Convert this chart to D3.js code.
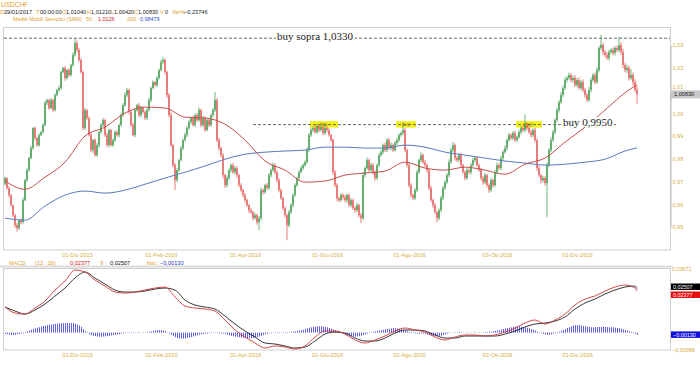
<!DOCTYPE html>
<html>
<head>
<meta charset="utf-8">
<script src="https://cdnjs.cloudflare.com/ajax/libs/d3/7.8.5/d3.min.js"></script>
<style>
  body { margin: 0; background: #fff; }
  svg { display: block; font-family: "Liberation Sans", Arial, sans-serif; }
</style>
</head>
<body>
<div id="chart"></div>
<script>
// USDCHF daily
const firstOpen = 0.9690;
const closes = [
  0.9715,0.9671,0.9640,0.9596,0.9552,0.9508,0.9495,0.9530,0.9521,0.9618,
  0.9706,0.9750,0.9803,0.9847,0.9935,0.9891,0.9860,0.9904,0.9917,0.9948,
  1.0045,1.0058,1.0023,1.0058,1.0014,1.0080,1.0102,1.0111,1.0181,1.0199,
  1.0155,1.0190,1.0168,1.0212,1.0256,1.0309,1.0278,1.0234,1.0181,0.9935,
  1.0014,0.9979,0.9904,0.9838,0.9882,0.9816,0.9860,0.9917,0.9948,0.9970,
  0.9904,0.9860,0.9926,0.9860,0.9882,0.9917,0.9904,0.9948,0.9992,1.0036,
  1.0080,1.0102,1.0005,0.9948,0.9904,1.0014,1.0036,0.9992,1.0023,1.0005,
  0.9979,1.0014,1.0058,1.0111,1.0137,1.0124,1.0155,1.0190,1.0225,1.0234,
  1.0181,1.0080,0.9992,0.9860,0.9772,0.9706,0.9750,0.9794,0.9847,0.9882,
  0.9904,0.9935,0.9961,0.9979,0.9948,0.9992,0.9970,1.0014,0.9948,0.9979,
  0.9926,0.9970,0.9948,0.9992,1.0014,1.0058,0.9882,0.9847,0.9816,0.9728,
  0.9684,0.9715,0.9750,0.9772,0.9741,0.9759,0.9728,0.9684,0.9662,0.9640,
  0.9618,0.9596,0.9574,0.9565,0.9539,0.9552,0.9521,0.9539,0.9662,0.9653,
  0.9684,0.9671,0.9728,0.9750,0.9772,0.9741,0.9706,0.9662,0.9627,0.9583,
  0.9552,0.9508,0.9565,0.9596,0.9640,0.9684,0.9715,0.9741,0.9759,0.9772,
  0.9785,0.9838,0.9904,0.9926,0.9935,0.9917,0.9944,0.9926,0.9939,0.9913,
  0.9935,0.9926,0.9904,0.9882,0.9741,0.9684,0.9627,0.9618,0.9640,0.9631,
  0.9618,0.9640,0.9596,0.9618,0.9583,0.9574,0.9596,0.9552,0.9539,0.9728,
  0.9759,0.9794,0.9750,0.9772,0.9741,0.9715,0.9772,0.9816,0.9829,0.9860,
  0.9838,0.9882,0.9847,0.9860,0.9838,0.9869,0.9882,0.9904,0.9913,0.9926,
  0.9838,0.9772,0.9684,0.9640,0.9627,0.9662,0.9741,0.9794,0.9816,0.9785,
  0.9772,0.9750,0.9671,0.9618,0.9596,0.9565,0.9539,0.9574,0.9627,0.9671,
  0.9697,0.9728,0.9785,0.9838,0.9860,0.9803,0.9794,0.9816,0.9772,0.9741,
  0.9715,0.9750,0.9741,0.9772,0.9794,0.9803,0.9772,0.9750,0.9715,0.9697,
  0.9728,0.9684,0.9662,0.9706,0.9684,0.9741,0.9772,0.9759,0.9803,0.9829,
  0.9847,0.9882,0.9904,0.9891,0.9913,0.9882,0.9895,0.9917,0.9935,0.9926,
  0.9948,0.9935,0.9917,0.9904,0.9926,0.9882,0.9759,0.9728,0.9706,0.9715,
  0.9693,0.9772,0.9838,0.9882,0.9917,0.9970,1.0014,1.0049,1.0080,1.0111,
  1.0146,1.0155,1.0168,1.0146,1.0155,1.0124,1.0146,1.0111,1.0137,1.0102,
  1.0080,1.0058,1.0102,1.0146,1.0168,1.0137,1.0190,1.0287,1.0300,1.0269,
  1.0256,1.0243,1.0269,1.0278,1.0265,1.0287,1.0278,1.0300,1.0269,1.0212,
  1.0190,1.0199,1.0155,1.0168,1.0137,1.0104,1.0083
];
// wick lengths above / below the body, in pips
const upWick = [
  6,4,8,5,3,6,9,4,7,12,5,8,6,10,4,7,5,9,6,8,
  10,7,5,9,6,8,5,11,7,6,9,5,8,6,12,22,10,8,7,6,
  9,5,8,12,6,7,10,5,8,9,6,11,7,5,8,6,9,7,10,8,
  12,9,6,8,10,7,5,9,8,6,7,9,10,6,8,5,9,7,10,13,
  8,6,9,12,7,10,8,6,9,7,11,8,10,6,9,7,8,12,6,9,
  7,10,8,6,9,35,8,10,6,9,7,12,8,6,10,9,7,5,8,6,
  9,7,5,8,6,10,7,9,12,8,6,9,10,7,12,8,6,9,7,5,
  8,6,10,9,7,8,6,9,10,7,8,12,9,11,7,10,8,6,9,7,
  10,8,9,6,7,9,8,6,10,7,9,8,6,9,7,8,10,6,9,14,
  8,12,7,9,10,8,6,9,11,7,10,8,9,12,7,9,10,8,6,24,
  9,7,10,8,6,9,11,8,12,7,9,6,8,10,7,9,6,8,10,9,
  8,10,12,9,14,7,9,8,10,6,8,9,7,10,12,8,9,7,10,8,
  9,7,8,10,6,9,11,8,10,9,12,8,10,7,9,11,8,10,9,12,
  47,10,9,12,8,10,7,9,6,10,8,11,9,12,10,8,11,9,13,10,
  12,9,11,8,10,13,9,11,8,12,10,9,13,11,8,10,12,9,44,10,
  9,12,10,8,11,9,10,35,12,15,10,14,9,25,11,12,17
];
const loWick = [
  8,6,10,7,9,12,15,8,10,6,5,9,7,6,8,10,6,8,5,7,
  6,9,8,5,10,7,6,8,9,5,12,7,8,6,9,7,10,8,6,9,
  10,8,6,9,12,7,8,10,6,9,8,7,10,6,9,8,7,10,6,8,
  7,9,10,8,6,9,7,8,10,6,9,8,7,10,6,8,9,7,6,8,
  10,12,9,8,10,44,9,8,6,10,7,9,8,10,6,9,7,8,10,9,
  8,6,9,7,10,8,9,12,10,14,12,9,8,10,7,9,12,10,8,9,
  10,8,12,9,10,8,11,35,9,10,8,9,7,10,8,9,12,10,8,11,
  10,66,9,8,10,7,9,8,6,9,8,7,10,8,9,6,8,10,7,9,
  8,10,7,9,12,10,14,9,8,10,9,12,8,10,9,11,8,10,22,9,
  10,8,9,7,10,12,8,9,7,10,8,9,7,10,8,6,9,8,7,9,
  8,10,12,9,10,8,9,7,10,8,9,11,10,9,12,8,18,10,9,8,
  9,8,10,7,9,12,8,10,9,7,10,8,9,11,8,10,9,8,10,12,
  8,10,12,9,11,8,9,10,8,9,7,10,8,9,10,8,9,7,10,8,
  9,10,8,11,9,10,12,9,14,10,11,150,10,9,8,10,9,11,8,10,
  9,11,8,10,12,9,10,8,11,10,12,9,8,10,9,11,8,10,9,12,
  10,9,12,8,10,11,9,10,12,14,10,13,11,9,15,12,41
];

// moving averages, read every 10 bars (last one at the final bar)
const sma50 = [
  0.9702,0.9666,0.9719,0.9785,0.9900,0.9939,1.0001,1.0027,1.0023,0.9983,
  0.9979,0.9952,0.9882,0.9790,0.9750,0.9697,0.9702,0.9728,0.9737,0.9746,
  0.9785,0.9759,0.9750,0.9763,0.9750,0.9732,0.9776,0.9803,0.9873,0.9939,
  1.0014,1.0090,1.0126
];
const sma200 = [
  0.9539,0.9530,0.9592,0.9640,0.9658,0.9649,0.9662,0.9688,0.9715,0.9741,
  0.9768,0.9798,0.9820,0.9829,0.9834,0.9838,0.9851,0.9851,0.9847,0.9847,
  0.9860,0.9851,0.9829,0.9816,0.9803,0.9790,0.9781,0.9772,0.9776,0.9785,
  0.9798,0.9834,0.9848
];

// MACD (12,26) and signal (9), read every 5 bars (last one at the final bar)
const macdLine = [
  0.01454,0.01113,0.01056,0.01397,0.01795,0.02420,0.02931,0.03556,0.03442,0.02988,
  0.02647,0.02306,0.02249,0.02306,0.02420,0.02533,0.02590,0.02022,0.01511,0.01397,
  0.01340,0.01227,0.00716,0.00148,-0.00250,-0.00591,-0.00875,-0.00761,-0.00818,-0.00932,
  -0.00761,-0.00250,0.00091,0.00091,-0.00080,-0.00420,-0.00591,-0.00420,-0.00193,0.00091,
  0.00261,0.00148,0.00034,-0.00250,-0.00420,-0.00250,-0.00136,-0.00136,-0.00193,-0.00136,
  0.00034,0.00261,0.00545,0.00716,0.00488,0.00716,0.01056,0.01568,0.01908,0.02079,
  0.02363,0.02590,0.02704,0.02533,0.02377
];
const signalLine = [
  0.01454,0.01227,0.01056,0.01284,0.01624,0.02079,0.02533,0.03101,0.03442,0.03101,
  0.02760,0.02420,0.02306,0.02306,0.02363,0.02476,0.02533,0.02420,0.01852,0.01568,
  0.01454,0.01340,0.00943,0.00488,0.00091,-0.00250,-0.00591,-0.00648,-0.00761,-0.00875,
  -0.00818,-0.00477,-0.00080,0.00034,-0.00023,-0.00307,-0.00477,-0.00477,-0.00307,-0.00023,
  0.00148,0.00148,0.00091,-0.00136,-0.00307,-0.00307,-0.00193,-0.00193,-0.00193,-0.00193,
  -0.00080,0.00091,0.00318,0.00488,0.00545,0.00659,0.00886,0.01340,0.01681,0.01908,
  0.02192,0.02420,0.02590,0.02647,0.02507
];
// histogram per bar, in units of 0.0001
const hist = [
  -8,-10,-12,-14,-14,-12,-10,-8,-5,
  0,4,8,12,16,20,24,28,31,34,37,40,42,44,46,48,50,51,52,53,54,54,55,55,54,53,50,46,40,32,
  20,8,-3,-10,-15,-18,-20,-22,-23,-23,-22,-21,-20,-18,-16,-14,-12,-10,-8,-6,-4,-2,
  -1,0,-2,-3,-2,-1,0,1,2,2,
  3,5,8,10,12,14,15,14,12,8,2,
  -5,-12,-20,-26,-30,-33,-34,-34,-33,-31,-28,-25,-22,-18,-15,-12,-10,-8,-6,-5,-4,
  -3,-2,-2,-3,-4,-5,-6,-8,
  -12,-15,-18,-20,-22,-24,-26,-28,-30,-31,-32,-32,-31,-30,-28,-26,-22,-18,-14,
  -10,-6,-3,0,2,3,2,0,-2,-3,-2,0,2,4,6,8,10,12,14,16,
  20,24,28,30,32,34,35,36,36,35,33,30,26,22,18,14,10,5,
  0,-6,-10,-14,-17,-20,-22,-23,-22,-20,-17,-14,-10,-6,
  -2,2,5,8,10,12,14,
  16,18,20,22,24,25,25,24,22,20,16,12,
  8,4,0,-3,-5,-6,-6,-5,-6,-8,
  -10,-13,-16,-18,-20,-20,-19,-17,-14,-10,-6,
  -3,-1,1,2,3,4,3,2,1,0,-1,-2,-3,-2,-1,0,1,2,3,4,5,6,8,10,12,
  14,17,20,23,26,28,30,32,34,35,35,34,32,30,27,24,20,16,12,
  6,0,-4,-8,-11,-12,-12,-10,-7,-4,
  0,5,10,15,20,26,31,36,40,42,43,42,40,38,36,34,32,30,30,30,31,32,33,33,32,31,30,30,29,28,26,24,21,18,15,12,
  8,4,0,-6,-13
];

const priceTicks = [0.95, 0.96, 0.97, 0.98, 0.99, 1.00, 1.01, 1.02, 1.03];
const dateLabels = ["01-Dic-2015", "01-Feb-2016", "01-Apr-2016", "01-Giu-2016", "01-Ago-2016", "03-Ott-2016", "01-Dic-2016"];
const dateIdx = [36, 78, 120, 161, 202, 246, 286];

// trading levels and the "buy" boxes (bar ranges)
const levels = [1.0330, 0.9950];
const levelText = ["buy sopra 1,0330", "buy 0,9950"];
const levelTextAt = [136, 279];
const buyZones = [[153, 166], [196, 205], [256, 268]];

const lastBar = { o: 1.01040, h: 1.01210, l: 1.00420, c: 1.00830, varPct: -0.23746 };

// ---------------------------------------------------------------
const width = 700, height = 365;
const orange = "#e0a030", axisCol = "#d6ae45";
const loc = d3.formatLocale({ decimal: ",", thousands: ".", grouping: [3], currency: ["", ""] });
const f2 = loc.format(".2f"), f5 = loc.format(".5f");

const N = closes.length;
const bars = closes.map(function (c, i) {
    const o = i ? closes[i - 1] : firstOpen;
    return {
        i: i, o: o, c: c,
        h: Math.max(o, c) + (upWick[i] || 0) / 1e4,
        l: Math.min(o, c) - (loWick[i] || 0) / 1e4
    };
});

const svg = d3.select("#chart").append("svg")
    .attr("width", width)
    .attr("height", height);

const xScale = d3.scaleLinear().domain([0, N - 1]).range([5, 637]);
const yScale = d3.scaleLinear().domain([0.95, 1.03]).range([227, 45]);
const mScale = d3.scaleLinear().domain([-0.00988, 0.03672]).range([350, 268]);

// header
svg.append("text").attr("x", 1).attr("y", 6.5).attr("font-size", 6.5)
    .attr("fill", orange).text("USDCHF");

const head2 = [[0, "D", 0], [4, "29/01/2017", 1], [36, "T", 0], [40, "00:00:00", 1],
    [62, "O", 0], [66, f5(lastBar.o), 1], [87, "H", 0], [91, f5(lastBar.h), 1],
    [111, "L", 0], [114, f5(lastBar.l), 1], [134, "C", 0], [138, f5(lastBar.c), 1],
    [160, "V", 0], [165, "0", 1], [172, "Var%", 0], [184, f5(lastBar.varPct), 1]];
svg.append("g").selectAll("text").data(head2).enter().append("text")
    .attr("x", d => d[0]).attr("y", 14).attr("font-size", 5.6)
    .attr("fill", d => d[2] ? "#222" : orange).text(d => d[1]);

const head3 = [[13, "Medie Mobili Semplici (SMA)", orange], [86, "50 :", orange],
    [98, loc.format(".4f")(sma50[sma50.length - 1]), "#d02020"], [127, "200 :", orange],
    [140, f5(sma200[sma200.length - 1] - 0.00001), "#3050c0"]];
svg.append("g").selectAll("text").data(head3).enter().append("text")
    .attr("x", d => d[0]).attr("y", 20.5).attr("font-size", 5.4)
    .attr("fill", d => d[2]).text(d => d[1]);

// panel frames
svg.append("rect").attr("x", 3.5).attr("y", 27.5).attr("width", 667).attr("height", 222.5)
    .attr("fill", "none").attr("stroke", "#cfcfcf");
svg.append("line").attr("x1", 0).attr("x2", 673).attr("y1", 266.5).attr("y2", 266.5)
    .attr("stroke", "#dcdcdc").attr("stroke-width", 2);
svg.append("rect").attr("x", 3.5).attr("y", 268.5).attr("width", 667).attr("height", 81.5)
    .attr("fill", "none").attr("stroke", "#cfcfcf");

// price axis; the 1,01 label sits just above the last-price tag
const lastPrice = closes[N - 1];
const yAxis = d3.axisRight(yScale).tickValues(priceTicks).tickFormat(f2).tickSize(0).tickPadding(2);
const gy = svg.append("g").attr("transform", "translate(670.5,0)").call(yAxis);
gy.select(".domain").attr("stroke", "#bbb");
gy.selectAll("text").attr("font-size", 5.5).attr("fill", axisCol).attr("font-family", "Liberation Sans, Arial")
    .attr("dy", d => Math.abs(yScale(d) - yScale(lastPrice)) < 7 ? "-0.35em" : "0.32em");

// date axes (main + macd)
const xAxis = d3.axisBottom(xScale).tickValues(dateIdx)
    .tickFormat((d, k) => dateLabels[k]).tickSize(0).tickPadding(3);
[250, 350].forEach(function (yy) {
    const g = svg.append("g").attr("transform", "translate(0," + yy + ")").call(xAxis);
    g.select(".domain").remove();
    g.selectAll("text").attr("font-size", 5.6).attr("fill", axisCol).attr("font-family", "Liberation Sans, Arial");
});

// level lines
svg.append("line").attr("x1", 4).attr("x2", 670).attr("y1", yScale(levels[0])).attr("y2", yScale(levels[0]))
    .attr("stroke", "#666").attr("stroke-dasharray", "3,2");

// buy boxes
const zones = svg.append("g");
buyZones.forEach(function (z) {
    const x0 = xScale(z[0]) - 1, x1 = xScale(z[1]) + 1;
    zones.append("rect").attr("x", x0).attr("y", yScale(levels[1]) - 3.5)
        .attr("width", x1 - x0).attr("height", 6.5).attr("fill", "#f4f21a");
    zones.append("text").attr("x", (x0 + x1) / 2).attr("y", yScale(levels[1]) + 1.8)
        .attr("text-anchor", "middle").attr("font-size", 4.5).attr("fill", "#8a7a30").text("buy");
});
svg.append("line").attr("x1", xScale(124)).attr("x2", xScale(306))
    .attr("y1", yScale(levels[1])).attr("y2", yScale(levels[1]))
    .attr("stroke", "#666").attr("stroke-dasharray", "3,2");

// candles
const cg = svg.append("g");
cg.selectAll("line").data(bars).enter().append("line")
    .attr("x1", d => xScale(d.i)).attr("x2", d => xScale(d.i))
    .attr("y1", d => yScale(d.h)).attr("y2", d => yScale(d.l))
    .attr("stroke", d => d.c >= d.o ? "#3d9c4b" : "#e2514f")
    .attr("stroke-width", 0.75);
cg.selectAll("rect").data(bars).enter().append("rect")
    .attr("x", d => xScale(d.i) - 0.6).attr("width", 1.2)
    .attr("y", d => yScale(Math.max(d.o, d.c)))
    .attr("height", d => Math.max(0.6, Math.abs(yScale(d.o) - yScale(d.c))))
    .attr("fill", d => d.c >= d.o ? "#33903f" : "#e2514f");

// moving averages
const idx10 = sma50.map((v, k) => Math.min(k * 10, N - 1));
const maLine = d3.line().x(d => xScale(d[0])).y(d => yScale(d[1])).curve(d3.curveMonotoneX);
svg.append("path").attr("d", maLine(sma200.map((v, k) => [idx10[k], v])))
    .attr("fill", "none").attr("stroke", "#5a7cc0").attr("stroke-width", 1);
svg.append("path").attr("d", maLine(sma50.map((v, k) => [idx10[k], v])))
    .attr("fill", "none").attr("stroke", "#c4504e").attr("stroke-width", 1);

// level labels with white backing
levels.forEach(function (lv, k) {
    const t = svg.append("text").attr("x", xScale(levelTextAt[k])).attr("y", yScale(lv) + 1.5)
        .attr("font-family", "Liberation Serif, Times New Roman, serif")
        .attr("font-size", 11).attr("fill", "#222").text(levelText[k]);
    const bb = t.node().getBBox();
    svg.insert("rect", function () { return t.node(); })
        .attr("x", bb.x - 1).attr("y", bb.y + 1).attr("width", bb.width + 2).attr("height", bb.height - 2)
        .attr("fill", "#fff");
});

// last price tag
const lastY = yScale(lastPrice);
svg.append("rect").attr("x", 671).attr("y", lastY - 4).attr("width", 29).attr("height", 8).attr("fill", "#c8c8c8");
svg.append("text").attr("x", 674).attr("y", lastY + 2).attr("font-size", 5.6).attr("fill", "#222").text(f5(lastPrice));

// MACD header
const headM = [[9, "MACD", orange], [35, "(12 , 26) :", orange], [70, f5(macdLine[macdLine.length - 1]), "#d02020"],
    [100, "9 :", orange], [110, f5(signalLine[signalLine.length - 1]), "#111"],
    [147, "hist :", orange], [160, f5(hist[hist.length - 1] / 1e4), "#2a3cc0"]];
svg.append("g").selectAll("text").data(headM).enter().append("text")
    .attr("x", d => d[0]).attr("y", 264.5).attr("font-size", 5.6)
    .attr("fill", d => d[2]).text(d => d[1]);

// MACD histogram
svg.append("g").selectAll("line").data(hist).enter().append("line")
    .attr("x1", (d, i) => Math.round(xScale(i)) + 0.5).attr("x2", (d, i) => Math.round(xScale(i)) + 0.5)
    .attr("y1", mScale(0)).attr("y2", d => mScale(d / 1e4) + (d === 0 ? 0.6 : 0))
    .attr("stroke", "#3434d4").attr("stroke-opacity", 0.8).attr("stroke-width", 1);

// MACD lines
const idx5 = macdLine.map((v, k) => Math.min(k * 5, N - 1));
const mLine = d3.line().x(d => xScale(d[0])).y(d => mScale(d[1])).curve(d3.curveMonotoneX);
svg.append("path").attr("d", mLine(signalLine.map((v, k) => [idx5[k], v])))
    .attr("fill", "none").attr("stroke", "#222").attr("stroke-width", 0.9);
svg.append("path").attr("d", mLine(macdLine.map((v, k) => [idx5[k], v])))
    .attr("fill", "none").attr("stroke", "#d03434").attr("stroke-width", 0.9);

// MACD scale ends
[[0.03672, 270.5], [-0.00988, 352]].forEach(function (d) {
    svg.append("text").attr("x", 672).attr("y", d[1]).attr("font-size", 5.4)
        .attr("fill", axisCol).text(f5(d[0]));
});

// MACD value tags (signal stacked above macd)
const sigY = mScale(signalLine[signalLine.length - 1]);
const macY = Math.max(mScale(macdLine[macdLine.length - 1]), sigY + 6.5);
const tags = [[sigY - 5, "#000", f5(signalLine[signalLine.length - 1])],
    [macY - 3.5, "#e41010", f5(macdLine[macdLine.length - 1])],
    [mScale(hist[hist.length - 1] / 1e4) - 3.5, "#1010d8", f5(hist[hist.length - 1] / 1e4)]];
tags.forEach(function (t) {
    svg.append("rect").attr("x", 671).attr("y", t[0]).attr("width", 29).attr("height", 6.5).attr("fill", t[1]);
    svg.append("text").attr("x", 673).attr("y", t[0] + 5.2).attr("font-size", 5.4).attr("fill", "#fff").text(t[2]);
});
</script>
</body>
</html>
